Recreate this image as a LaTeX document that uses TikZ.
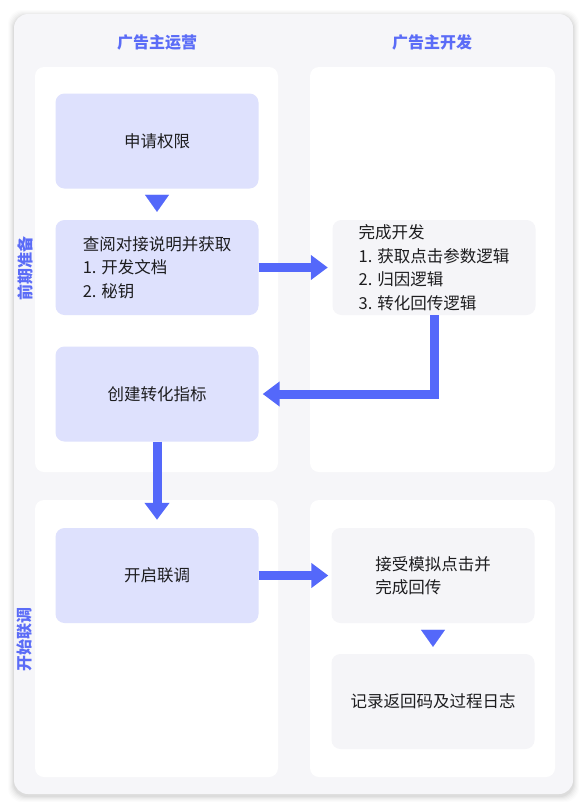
\documentclass[tikz,border=0pt]{standalone}
\usepackage{fontspec}
\setmainfont{Noto Sans CJK SC}
\usetikzlibrary{arrows.meta}
\usetikzlibrary{positioning}
\definecolor{pagebg}{HTML}{F6F6F9}
\definecolor{opfill}{HTML}{DEE1FD}
\definecolor{devfill}{HTML}{F5F5F8}
\definecolor{flowblue}{HTML}{5468FA}
\definecolor{headblue}{HTML}{5B6CF7}
\definecolor{txt}{HTML}{1D1D1F}
\tikzstyle{op}=[fill=opfill, rounded corners=9pt, minimum width=203pt, minimum height=95pt, align=left, text=txt, font=\fontsize{16.5}{23.5}\selectfont]
\tikzstyle{dev}=[op, fill=devfill]
\tikzstyle{head}=[text=headblue, font=\bfseries\fontsize{16}{20}\selectfont]
\tikzstyle{side}=[head, rotate=90]
\tikzstyle{panel}=[fill=white, rounded corners=9pt]
\tikzstyle{flow}=[draw=flowblue, line width=9pt, -{Triangle[width=24pt,length=17pt]}]
\tikzstyle{tip}=[draw=flowblue, line width=0.1pt, -{Triangle[width=24pt,length=17pt]}]
\pgfdeclarelayer{background}
\pgfsetlayers{background,main}
\begin{document}
\begin{tikzpicture}[x=1pt,y=-1pt,node distance=126.5pt]
  \useasboundingbox (0,0) rectangle (587,809);
    \node [op] (a) at (157,141) {申请权限};
    \node [op] (b) [below of=a] {查阅对接说明并获取\\1. 开发文档\\2. 秘钥};
    \node [op] (c) [below of=b] {创建转化指标};
    \node [op] (e) [below of=c, node distance=181.5pt] {开启联调};
    \node [dev] (d) [right of=b, node distance=277pt] {完成开发\\1. 获取点击参数逻辑\\2. 归因逻辑\\3. 转化回传逻辑};
    \node [dev] (f) [right of=e, node distance=276pt] {接受模拟点击并\\完成回传};
    \node [dev] (g) [below of=f, node distance=126pt] {记录返回码及过程日志};

    \node [head] (h1) at (157,42) {广告主运营};
    \node [head] (h2) at (432,42) {广告主开发};
    \node [side] (s1) at (25,268) {前期准备};
    \node [side] (s2) at (25,639) {开始联调};

    \draw [tip, shorten <=7pt, shorten >=8pt] (a) -- (b);
    \draw [flow, shorten >=4.5pt] (b) -- (d);
    \draw [flow, shorten >=4pt] (d.south) |- (c.east);
    \draw [flow, shorten >=8pt] (c) -- (e);
    \draw [flow, shorten >=3pt] (e) -- (f);
    \draw [tip, shorten <=7pt, shorten >=7pt] (f) -- (g);

    % page, shadow and white panels behind the boxes
    \begin{pgfonlayer}{background}
      \fill [white] (0,0) rectangle (587,809);
      \foreach \s/\o in {1/0.035,2/0.03,3/0.025,4/0.02,5/0.015,6/0.01}
        \fill [black, opacity=\o, rounded corners=14pt] (14-\s,16-\s) rectangle (573+\s,796+\s);
      \fill [pagebg, rounded corners=14pt] (14,14) rectangle (573,794);
      \fill [panel] (35,67) rectangle (278,472);
      \fill [panel] (310,67) rectangle (555,472);
      \fill [panel] (35,500) rectangle (278,777);
      \fill [panel] (310,500) rectangle (555,777);
    \end{pgfonlayer}
\end{tikzpicture}
\end{document}
